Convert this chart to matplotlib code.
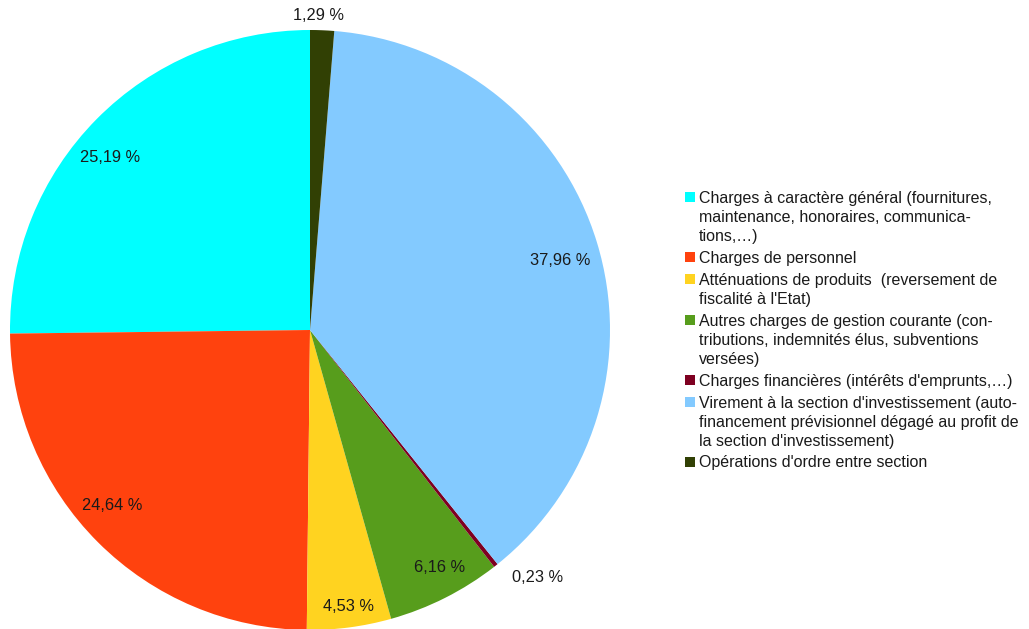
import numpy as np
import matplotlib.pyplot as plt
from matplotlib.patches import Rectangle

plt.rcParams['font.family'] = ['Liberation Sans', 'DejaVu Sans']

labels = ["Charges à caractère général (fournitures,\nmaintenance, honoraires, communica-\ntions,…)",
          "Charges de personnel",
          "Atténuations de produits  (reversement de\nfiscalité à l'Etat)",
          "Autres charges de gestion courante (con-\ntributions, indemnités élus, subventions\nversées)",
          "Charges financières (intérêts d'emprunts,…)",
          "Virement à la section d'investissement (auto-\nfinancement prévisionnel dégagé au profit de\nla section d'investissement)",
          "Opérations d'ordre entre section"]
values = [25.19, 24.64, 4.53, 6.16, 0.23, 37.96, 1.29]
colors = ['#00ffff', '#ff420e', '#ffd320', '#579d1c', '#7e0021', '#83caff', '#314004']
# label distance (in radii) and angular nudge (deg) from slice bisector
label_dist = [0.88, 0.88, 0.93, 0.9, 1.12, 0.865, 1.05]
label_shift = [3.8, -3.5, 0.3, 1.8, 4.3, -1.4, 0.8]

W, H = 1029, 629
fig = plt.figure(figsize=(W / 100, H / 100), dpi=100)
ax = fig.add_axes([0, 0, 1, 1])
cx, cy, r = 310, 330, 300

ax.pie(values, colors=colors, startangle=90, counterclock=True,
       radius=1, center=(0, 0), frame=True)
ax.set_xlim(-cx / r, (W - cx) / r)
ax.set_ylim(-(H - cy) / r, cy / r)
ax.set_aspect('equal')
ax.axis('off')

start = 90
for v, d, s in zip(values, label_dist, label_shift):
    mid = np.radians(start + v * 3.6 / 2 + s)
    ax.text(d * np.cos(mid), d * np.sin(mid), ('%.2f %%' % v).replace('.', ','),
            ha='center', va='center', fontsize=11.8, color='#1a1a1a')
    start += v * 3.6

# legend drawn by hand so the swatch sits on the first line
line_h = 19.1
gap = 2.7
y = 197
for lab, c in zip(labels, colors):
    lines = lab.split('\n')
    fig.patches.append(Rectangle((685 / W, 1 - (y + 5) / H), 10 / W, 10 / H,
                                 transform=fig.transFigure, facecolor=c, edgecolor='none'))
    for i, ln in enumerate(lines):
        fig.text(699 / W, 1 - (y + i * line_h) / H, ln, ha='left', va='center_baseline',
                 fontsize=11.5, color='#1a1a1a')
    y += len(lines) * line_h + gap

fig.savefig('out.png', dpi=100)
